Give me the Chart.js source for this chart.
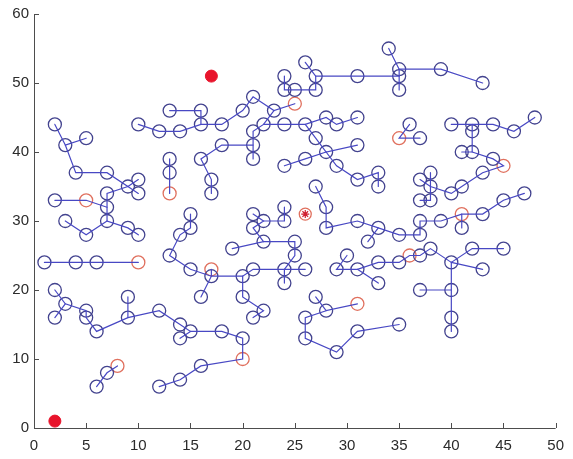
<!DOCTYPE html>
<html>
<head>
<meta charset="utf-8">
<script src="https://cdn.jsdelivr.net/npm/chart.js@4/dist/chart.umd.min.js"></script>
<style>
  html, body { margin: 0; padding: 0; background: #ffffff; }
  #wrap { width: 573px; height: 459px; position: relative; }
</style>
</head>
<body>
<div id="wrap"><canvas id="c" width="573" height="459"></canvas></div>
<script>
// ---- axis ticks ----
const xTicks = [0, 5, 10, 15, 20, 25, 30, 35, 40, 45, 50];
const yTicks = [0, 10, 20, 30, 40, 50, 60];

// ---- tree branches (polylines of node coordinates) ----
const branches = [
  [[2,44],[3,41],[4,37],[7,37],[9,35],[10,36]],
  [[3,41],[5,42]],
  [[9,35],[10,34]],
  [[9,35],[7,34],[7,32],[7,30],[9,29],[10,28]],
  [[2,33],[5,33],[7,32]],
  [[3,30],[5,28],[7,30]],
  [[1,24],[4,24],[6,24],[10,24]],
  [[2,20],[3,18],[5,17],[5,16],[6,14],[9,16],[12,17],[14,15],[15,14],[18,14],[20,13],[20,10],[16,9],[14,7],[12,6]],
  [[2,16],[3,18]],
  [[9,16],[9,19]],
  [[14,13],[15,14]],
  [[6,6],[7,8],[8,9]],
  [[10,44],[12,43],[14,43],[16,44],[18,44],[20,46],[21,48],[23,46],[25,47]],
  [[13,46],[16,46],[16,44]],
  [[23,46],[22,44],[21,43],[21,41],[21,39]],
  [[22,44],[24,44],[26,44],[28,45],[29,44],[31,45]],
  [[21,41],[18,41],[16,39],[17,36],[17,34]],
  [[26,44],[27,42],[28,40],[31,41]],
  [[28,40],[26,39],[24,38]],
  [[28,40],[29,38],[31,36],[33,37],[33,35]],
  [[24,51],[24,49],[25,49],[27,49],[27,51],[26,53]],
  [[27,51],[31,51],[35,51],[35,52],[39,52],[43,50]],
  [[34,55],[35,52]],
  [[35,51],[35,49]],
  [[13,39],[13,37],[13,34]],
  [[36,44],[35,42],[37,42]],
  [[40,44],[42,44],[44,44],[46,43],[48,45]],
  [[42,44],[42,43],[42,40],[41,40]],
  [[42,40],[44,39],[45,38],[43,37],[41,35],[40,34],[38,35],[37,36]],
  [[38,35],[38,37]],
  [[38,35],[38,33],[37,33]],
  [[47,34],[45,33],[43,31],[41,31],[39,30],[37,30],[37,28],[35,28],[33,29],[31,30],[28,29],[28,32],[27,35]],
  [[41,31],[41,29]],
  [[33,29],[32,27]],
  [[15,31],[15,29],[14,28],[13,25],[15,23],[17,22],[20,22],[21,23],[24,23],[26,23]],
  [[17,23],[17,22],[16,19]],
  [[20,22],[20,19],[22,17],[21,16]],
  [[24,23],[24,21]],
  [[24,23],[25,25],[25,27],[22,27],[19,26]],
  [[22,27],[21,29],[22,30],[21,31]],
  [[22,30],[24,30],[24,32]],
  [[30,25],[29,23],[31,23],[33,24],[35,24],[36,25],[37,25],[38,26],[40,24],[42,26],[45,26]],
  [[31,23],[33,21]],
  [[40,24],[43,23]],
  [[40,24],[40,20],[40,16],[40,14]],
  [[37,20],[40,20]],
  [[27,19],[28,17],[31,18]],
  [[28,17],[26,16],[26,13],[29,11],[31,14],[35,15]]
];

// ---- special nodes ----
const rootNodes = [[5,33],[10,24],[13,34],[17,23],[8,9],[20,10],[25,47],[31,18],[35,42],[36,25],[41,31],[45,38]];
const startGoal = [[2,1],[17,51]];
const centerNode = [[26,31]];

// ---- derived data ----
const key = p => p[0] + ',' + p[1];
const rootKeys = new Set(rootNodes.map(key));
const seen = new Set();
const blueNodes = [];
branches.forEach(br => br.forEach(p => {
  const k = key(p);
  if (!seen.has(k) && !rootKeys.has(k)) { seen.add(k); blueNodes.push(p); }
}));
const toXY = arr => arr.map(p => ({x: p[0], y: p[1]}));

const LINE_COLOR = '#4848c4';
const NODE_COLOR = '#43438f';
const ROOT_COLOR = '#e0705e';
const RED = '#e8142c';

const datasets = [];
branches.forEach(br => datasets.push({
  data: toXY(br), showLine: true, borderColor: LINE_COLOR, borderWidth: 1.2,
  pointRadius: 0, fill: false, tension: 0
}));
datasets.push({ data: toXY(blueNodes), showLine: false, pointStyle: 'circle', pointRadius: 6.5,
  pointBorderColor: NODE_COLOR, pointBackgroundColor: 'rgba(0,0,0,0)', pointBorderWidth: 1.3 });
datasets.push({ data: toXY(rootNodes), showLine: false, pointStyle: 'circle', pointRadius: 6.5,
  pointBorderColor: ROOT_COLOR, pointBackgroundColor: 'rgba(0,0,0,0)', pointBorderWidth: 1.3 });
datasets.push({ data: toXY(centerNode), showLine: false, pointStyle: 'circle', pointRadius: 6,
  pointBorderColor: ROOT_COLOR, pointBackgroundColor: 'rgba(0,0,0,0)', pointBorderWidth: 1.3 });
datasets.push({ data: toXY(centerNode), showLine: false, pointStyle: 'star', pointRadius: 4,
  pointBorderColor: '#d02030', pointBackgroundColor: 'rgba(0,0,0,0)', pointBorderWidth: 1.2 });
datasets.push({ data: toXY(startGoal), showLine: false, pointStyle: 'circle', pointRadius: 6,
  pointBorderColor: RED, pointBackgroundColor: RED, pointBorderWidth: 1 });

const FONT = { family: 'Liberation Sans, Arial, sans-serif', size: 15 };

const axisPlugin = {
  id: 'matlabAxes',
  afterDraw(chart) {
    const ctx = chart.ctx, a = chart.chartArea;
    const xs = chart.scales.x, ys = chart.scales.y;
    ctx.save();
    ctx.strokeStyle = '#4d4d4d';
    ctx.lineWidth = 1;
    ctx.beginPath();
    ctx.moveTo(a.left + 0.5, a.top);
    ctx.lineTo(a.left + 0.5, a.bottom + 0.5);
    ctx.lineTo(a.right, a.bottom + 0.5);
    ctx.stroke();
    ctx.beginPath();
    xTicks.forEach(v => {
      const px = Math.round(xs.getPixelForValue(v)) + 0.5;
      ctx.moveTo(px, a.bottom); ctx.lineTo(px, a.bottom - 5);
    });
    yTicks.forEach(v => {
      const py = Math.round(ys.getPixelForValue(v)) + 0.5;
      ctx.moveTo(a.left, py); ctx.lineTo(a.left + 5, py);
    });
    ctx.stroke();
    ctx.restore();
  }
};

new Chart(document.getElementById('c'), {
  type: 'scatter',
  data: { datasets },
  options: {
    responsive: false,
    animation: false,
    layout: { padding: { top: 13, right: 11, left: 0, bottom: 0 } },
    plugins: { legend: { display: false }, tooltip: { enabled: false } },
    elements: { line: { borderCapStyle: 'round' } },
    scales: {
      x: {
        type: 'linear', min: 0, max: 50,
        afterBuildTicks: s => { s.ticks = xTicks.map(v => ({ value: v })); },
        afterFit: s => { s.height = 31; },
        grid: { display: false, drawTicks: false },
        border: { display: false },
        ticks: { color: '#2b2b2b', font: FONT, padding: 9, maxRotation: 0 }
      },
      y: {
        type: 'linear', min: 0, max: 60,
        afterBuildTicks: s => { s.ticks = yTicks.map(v => ({ value: v })); },
        afterFit: s => { s.width = 34; },
        grid: { display: false, drawTicks: false },
        border: { display: false },
        ticks: { color: '#2b2b2b', font: FONT, padding: 5 }
      }
    }
  },
  plugins: [axisPlugin]
});
</script>
</body>
</html>
